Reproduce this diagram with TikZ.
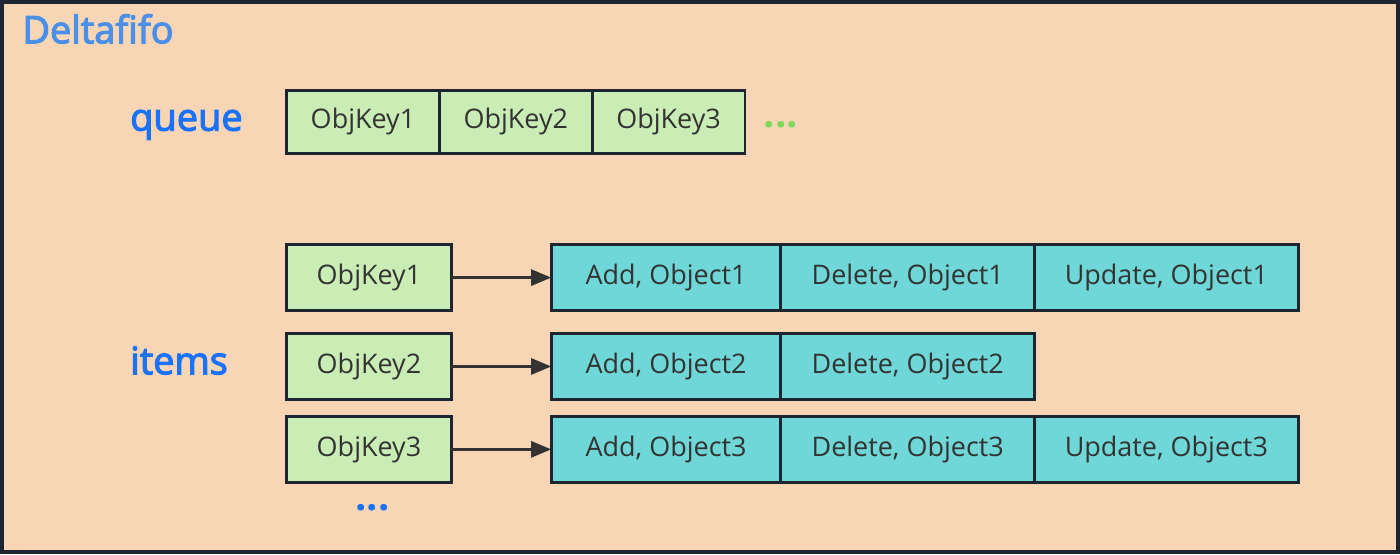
\documentclass[tikz,border=0pt]{standalone}
\usepackage{fontspec}
\setmainfont{Open Sans}
\newfontfamily\labelfont[FakeBold=3]{Open Sans}
\usetikzlibrary{positioning, arrows.meta}
\definecolor{peach}{HTML}{F8D5B4}
\definecolor{frame}{HTML}{1C2530}
\definecolor{keygreen}{HTML}{CAEDB6}
\definecolor{opcyan}{HTML}{6FD7D7}
\definecolor{txt}{HTML}{333333}
\definecolor{paleblue}{HTML}{4A8FE8}
\definecolor{deepblue}{HTML}{1A72FF}
\definecolor{dotgreen}{HTML}{7FD95A}

\begin{document}
\begin{tikzpicture}
  [
    x=0.5pt, y=-0.5pt,
    Box/.style={rectangle, draw=frame, line width=1.4pt, outer sep=0pt, inner sep=0pt, text=txt, font=\fontsize{13.5}{16}\selectfont},
    Key/.style={Box, fill=keygreen, minimum width=82.5pt, minimum height=33pt},
    Slot/.style={Box, fill=keygreen, minimum width=76.5pt, minimum height=31.5pt},
    Op/.style={Box, fill=opcyan, minimum height=33pt},
    Label/.style={anchor=west, inner sep=0pt, text=deepblue, font=\labelfont\fontsize{19}{22}\selectfont},
    More/.style={inner sep=0pt, font=\bfseries\fontsize{20}{22}\selectfont},
    Arrow/.style={-{Triangle[length=10pt, width=8pt]}, line width=1.3pt, draw=txt}
  ]
  % Frame
  \fill[peach] (0,0) rectangle (1400,553);
  \draw[frame, line width=2pt] (1,1) rectangle (1399,552);

  % Nodes
  \node[Label, text=paleblue] (fifo) at (21, 28) {Deltafifo};
  \node[Label] (queue) at (129, 124) {queue};
  \node[Label] (items) at (129, 360) {items};

  \node[Slot] (q1) at (362.5, 121) {ObjKey1};
  \node[Slot, right=0pt of q1] (q2) {ObjKey2};
  \node[Slot, right=0pt of q2] (q3) {ObjKey3};
  \node[More, text=dotgreen] (qmore) at (781, 124) {...};

  \node[Key] (k1) at (368.5, 277) {ObjKey1};
  \node[Key] (k2) at (368.5, 366) {ObjKey2};
  \node[Key] (k3) at (368.5, 449) {ObjKey3};
  \node[More, text=deepblue] (kmore) at (372, 507) {...};

  \node[Op, minimum width=115pt] (a1) at (666, 277) {Add, Object1};
  \node[Op, minimum width=127pt, right=0pt of a1] (d1) {Delete, Object1};
  \node[Op, minimum width=132pt, right=0pt of d1] (u1) {Update, Object1};

  \node[Op, minimum width=115pt] (a2) at (666, 366) {Add, Object2};
  \node[Op, minimum width=127pt, right=0pt of a2] (d2) {Delete, Object2};

  \node[Op, minimum width=115pt] (a3) at (666, 449) {Add, Object3};
  \node[Op, minimum width=127pt, right=0pt of a3] (d3) {Delete, Object3};
  \node[Op, minimum width=132pt, right=0pt of d3] (u3) {Update, Object3};

  % Links
  \draw[Arrow] (k1) -- (a1);
  \draw[Arrow] (k2) -- (a2);
  \draw[Arrow] (k3) -- (a3);
\end{tikzpicture}
\end{document}
